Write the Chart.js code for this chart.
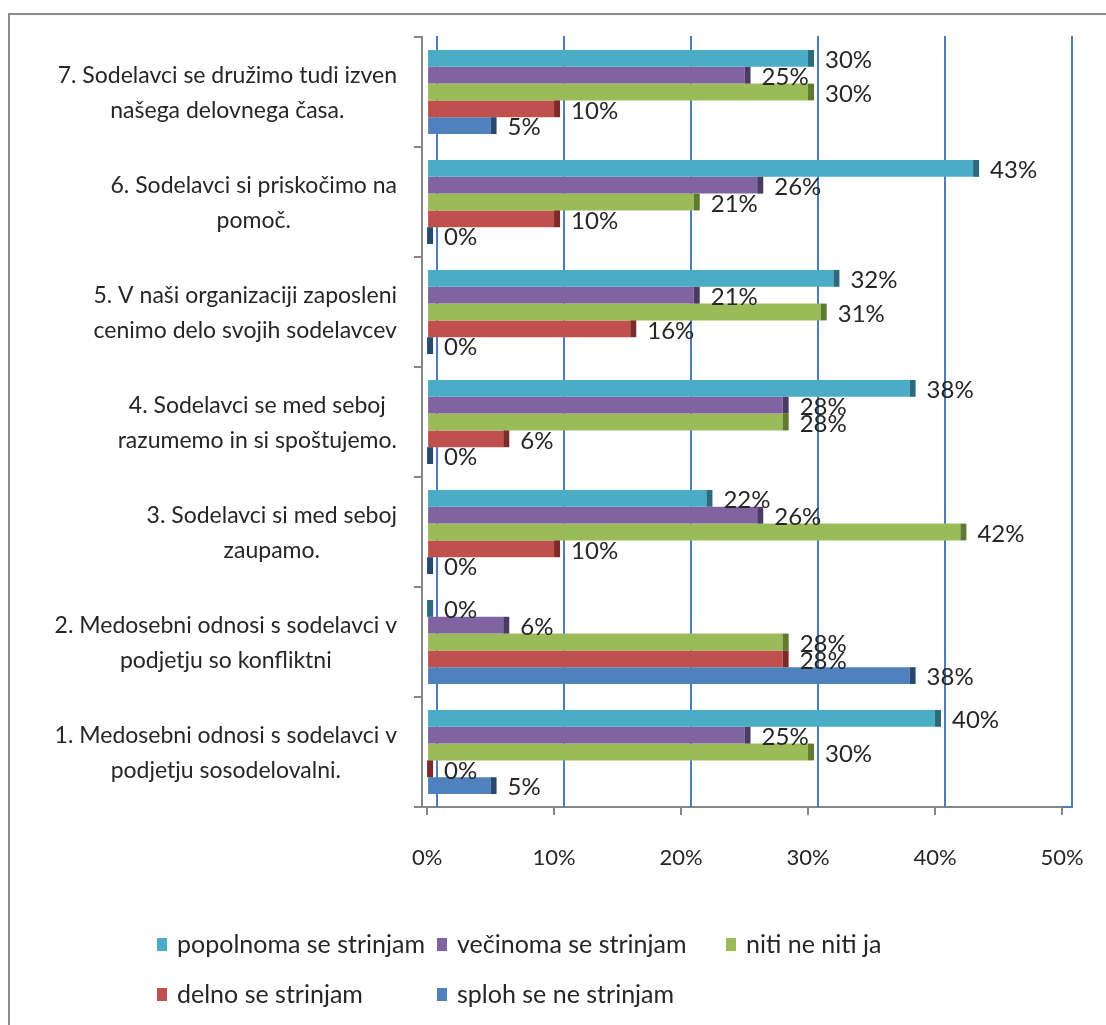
<!DOCTYPE html>
<html>
<head>
<meta charset="utf-8">
<script src="https://cdn.jsdelivr.net/npm/chart.js@4/dist/chart.umd.min.js"></script>
<style>
  html, body { margin: 0; padding: 0; background: #fff; }
  canvas { display: block; }
</style>
</head>
<body>
<canvas id="odnosiChart" width="1106" height="1025"></canvas>
<script>
var categories = [
    ['7. Sodelavci se družimo tudi izven', 'našega delovnega časa.'],
    ['6. Sodelavci si priskočimo na', 'pomoč.'],
    ['5. V naši organizaciji zaposleni', 'cenimo delo svojih sodelavcev'],
    ['4. Sodelavci se med seboj ', 'razumemo in si spoštujemo.'],
    ['3. Sodelavci si med seboj', 'zaupamo.'],
    ['2. Medosebni odnosi s sodelavci v', 'podjetju so konfliktni'],
    ['1. Medosebni odnosi s sodelavci v', 'podjetju sosodelovalni.']
];
var seriesNames = ['popolnoma se strinjam', 'večinoma se strinjam', 'niti ne niti ja', 'delno se strinjam', 'sploh se ne strinjam'];
var popolnoma = [30, 43, 32, 38, 22, 0, 40];
var vecinoma = [25, 26, 21, 28, 26, 6, 25];
var nitiNe = [30, 21, 31, 28, 42, 28, 30];
var delno = [10, 10, 16, 6, 10, 28, 0];
var sploh = [5, 0, 0, 0, 0, 38, 5];
var xTicks = [0, 10, 20, 30, 40, 50];

var fills = ['#4BACC6', '#8064A2', '#9BBB59', '#C0504D', '#4F81BD'];
var caps = ['#2C6B7D', '#4B3A62', '#5F7A2F', '#7B2B29', '#28486F'];
var FONT = 'Lato, "Open Sans", sans-serif';
var TEXT = '#262626';

// frame, back grid lines (shifted like a 3D back wall)
var backWall = {
    id: 'backWall',
    beforeDraw: function (chart) {
        var ctx = chart.ctx;
        ctx.save();
        ctx.strokeStyle = '#8C8C8C';
        ctx.lineWidth = 2;
        ctx.strokeRect(9, 14, 1200, 1200);
        ctx.restore();
    },
    beforeDatasetsDraw: function (chart) {
        var ctx = chart.ctx, a = chart.chartArea, xs = chart.scales.x;
        ctx.save();
        ctx.strokeStyle = '#4A7EBB';
        ctx.lineWidth = 2;
        xTicks.forEach(function (v) {
            var px = Math.round(xs.getPixelForValue(v)) + 10;
            ctx.beginPath();
            ctx.moveTo(px, a.top - 1);
            ctx.lineTo(px, a.bottom);
            ctx.stroke();
        });
        var last = Math.round(xs.getPixelForValue(xTicks[xTicks.length - 1]));
        ctx.beginPath();
        ctx.moveTo(last, a.bottom);
        ctx.lineTo(last + 11, a.bottom);
        ctx.stroke();
        ctx.restore();
    }
};

// dark end faces and value labels
var barEnds = {
    id: 'barEnds',
    afterDatasetsDraw: function (chart) {
        var ctx = chart.ctx;
        ctx.save();
        ctx.font = '24px ' + FONT;
        ctx.textBaseline = 'middle';
        ctx.textAlign = 'left';
        chart.data.datasets.forEach(function (ds, d) {
            chart.getDatasetMeta(d).data.forEach(function (el, i) {
                var p = el.getProps(['x', 'y', 'height'], true);
                ctx.fillStyle = caps[d];
                ctx.fillRect(p.x, p.y - p.height / 2, 6, p.height);
                ctx.fillStyle = TEXT;
                ctx.fillText(ds.data[i] + '%', p.x + 17, p.y + 2);
            });
        });
        ctx.restore();
    }
};

// category labels, lines centred on each other, block right-aligned
var catLabels = {
    id: 'catLabels',
    afterDraw: function (chart) {
        var ctx = chart.ctx, ys = chart.scales.y;
        ctx.save();
        ctx.font = '23px ' + FONT;
        ctx.fillStyle = TEXT;
        ctx.textAlign = 'center';
        ctx.textBaseline = 'middle';
        categories.forEach(function (lines, i) {
            var y = ys.getPixelForValue(i);
            var w = Math.max.apply(null, lines.map(function (t) { return ctx.measureText(t.trim()).width; }));
            var cx = 397 - w / 2;
            ctx.fillText(lines[0].trim(), cx, y - 16);
            ctx.fillText(lines[1].trim(), cx, y + 19);
        });
        ctx.restore();
    }
};

// two-row legend under the plot
var legendRows = {
    id: 'legendRows',
    afterDraw: function (chart) {
        var ctx = chart.ctx;
        var slots = [[157, 945], [437, 945], [726, 945], [157, 995], [437, 995]];
        ctx.save();
        ctx.font = '25px ' + FONT;
        ctx.textBaseline = 'middle';
        ctx.textAlign = 'left';
        seriesNames.forEach(function (name, d) {
            var s = slots[d];
            ctx.fillStyle = fills[d];
            ctx.fillRect(s[0], s[1] - 7, 10, 13);
            ctx.fillStyle = TEXT;
            ctx.fillText(name, s[0] + 20, s[1]);
        });
        ctx.restore();
    }
};

var seriesValues = [popolnoma, vecinoma, nitiNe, delno, sploh];

var ctx = document.getElementById('odnosiChart').getContext('2d');
var odnosiChart = new Chart(ctx, {
    type: 'bar',
    data: {
        labels: categories,
        datasets: seriesNames.map(function (name, d) {
            return {
                label: name,
                data: seriesValues[d],
                backgroundColor: fills[d],
                borderWidth: 0,
                barPercentage: 1,
                categoryPercentage: 0.764
            };
        })
    },
    options: {
        indexAxis: 'y',
        responsive: false,
        animation: false,
        layout: {
            padding: { top: 37, right: 44, bottom: 0, left: 0 }
        },
        plugins: {
            legend: { display: false },
            tooltip: { enabled: false }
        },
        scales: {
            x: {
                min: -0.4,
                max: 50,
                afterBuildTicks: function (scale) {
                    scale.ticks = xTicks.map(function (v) { return { value: v }; });
                },
                afterFit: function (scale) {
                    scale.height = 218;
                    // the large label gap should not eat into the plot width
                    scale.paddingLeft = 0;
                    scale.paddingRight = 24;
                },
                grid: {
                    drawOnChartArea: false,
                    drawTicks: true,
                    tickLength: 8,
                    color: '#868686',
                    lineWidth: 2
                },
                border: { display: true, color: '#868686', width: 2 },
                ticks: {
                    padding: 30,
                    maxRotation: 0,
                    color: TEXT,
                    font: { family: FONT, size: 22 },
                    callback: function (v) { return v + '%'; }
                }
            },
            y: {
                afterFit: function (scale) {
                    scale.width = 422;
                },
                grid: {
                    drawOnChartArea: false,
                    drawTicks: true,
                    tickLength: 8,
                    color: '#868686',
                    lineWidth: 2
                },
                border: { display: true, color: '#868686', width: 2 },
                ticks: { display: false }
            }
        }
    },
    plugins: [backWall, barEnds, catLabels, legendRows]
});
</script>
</body>
</html>
